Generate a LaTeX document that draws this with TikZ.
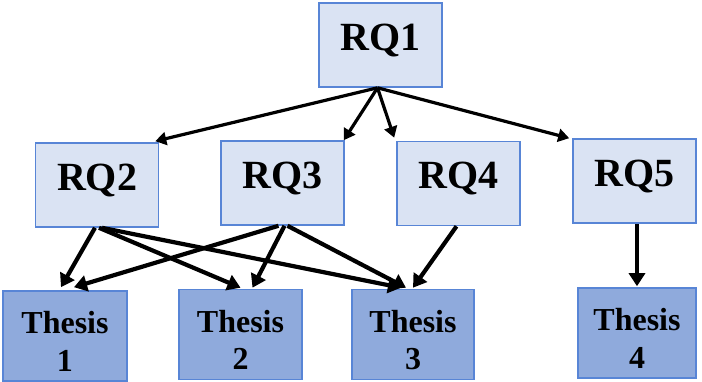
\documentclass[tikz,border=0pt]{standalone}
\usepackage{fontspec}
\setmainfont{Liberation Serif}
\usetikzlibrary{arrows.meta}
\definecolor{rqfill}{RGB}{218,227,243}
\definecolor{thfill}{RGB}{143,170,220}
\definecolor{boxline}{RGB}{88,133,214}
\begin{document}
\begin{tikzpicture}[x=1pt,y=-1pt,
  rqbox/.style={draw=boxline, line width=1.6pt, fill=rqfill, inner sep=0pt,
    minimum width=123pt, minimum height=84pt,
    font=\fontsize{40}{44}\selectfont\bfseries, text height=27pt, text depth=16pt},
  thbox/.style={draw=boxline, line width=1.6pt, fill=thfill, inner sep=0pt,
    minimum width=123pt, minimum height=90pt, align=center,
    font=\fontsize{32}{38}\selectfont\bfseries, text height=71pt, text depth=0pt},
  link/.style={line width=3.2pt, -{Triangle[length=11pt,width=13pt]}},
  boldlink/.style={line width=4.2pt, -{Triangle[length=13pt,width=16pt]}}]
  \useasboundingbox (0,0) rectangle (702,382);

  % research questions
  \node[rqbox] (rq1) at (380.5,45) {RQ1};
  \node[rqbox] (rq2) at (97,185) {RQ2};
  \node[rqbox] (rq3) at (282.5,183) {RQ3};
  \node[rqbox] (rq4) at (458.5,183.5) {RQ4};
  \node[rqbox] (rq5) at (634.5,181) {RQ5};

  % theses
  \node[thbox, minimum width=124pt] (th1) at (65,336) {Thesis\\1};
  \node[thbox] (th2) at (240.5,334.5) {Thesis\\2};
  \node[thbox, minimum width=122pt] (th3) at (413,334.5) {Thesis\\3};
  \node[thbox, minimum width=118pt] (th4) at (637,333) {Thesis\\4};

  % RQ1 to the sub-questions
  \draw[link] ([xshift=-3pt]rq1.south) -- ([xshift=-4pt,yshift=1pt]rq2.north east);
  \draw[link] ([xshift=-3pt]rq1.south) -- ([xshift=-1pt]rq3.north east);
  \draw[link] ([xshift=-3pt]rq1.south) -- ([xshift=-2pt,yshift=3pt]rq4.north west);
  \draw[link] ([xshift=-3pt]rq1.south) -- ([xshift=-3pt]rq5.north west);

  % sub-questions to theses
  \draw[boldlink] ([xshift=-2pt]rq2.south) -- ([xshift=-4pt,yshift=3pt]th1.north);
  \draw[boldlink] ([xshift=2pt]rq2.south) -- ([xshift=0pt,yshift=1pt]th2.north);
  \draw[boldlink] ([xshift=5pt]rq2.south) -- ([xshift=-12pt,yshift=1pt]th3.north);
  \draw[boldlink] ([xshift=-4pt]rq3.south) -- ([xshift=9pt,yshift=3pt]th1.north);
  \draw[boldlink] ([xshift=2pt]rq3.south) -- ([xshift=12pt,yshift=1pt]th2.north);
  \draw[boldlink] ([xshift=5pt]rq3.south) -- ([xshift=-7pt,yshift=1pt]th3.north);
  \draw[boldlink] ([xshift=-2pt]rq4.south) -- ([xshift=0pt,yshift=1pt]th3.north);
  \draw[boldlink] (rq5.south -| th4.north) -- ([yshift=1pt]th4.north);
\end{tikzpicture}
\end{document}
